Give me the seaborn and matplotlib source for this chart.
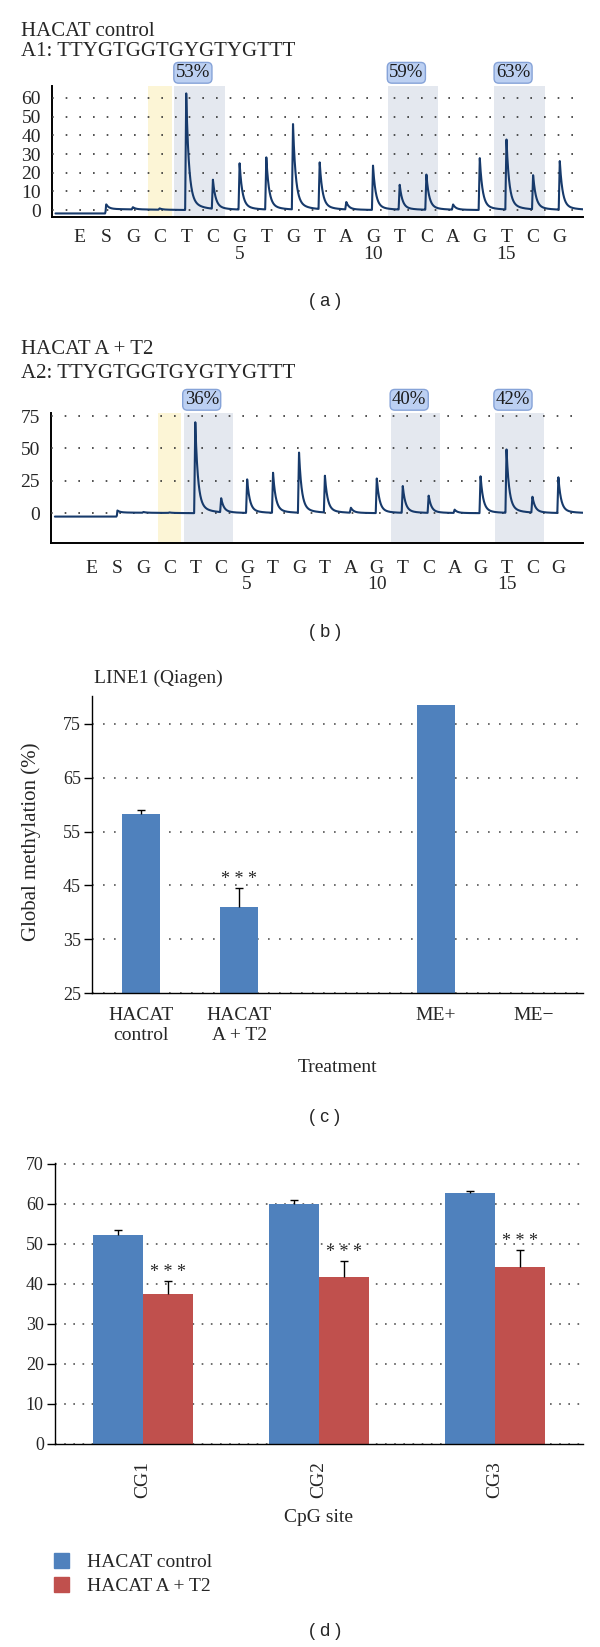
import numpy as np
import pandas as pd
import matplotlib
matplotlib.use("Agg")
import matplotlib.pyplot as plt
from matplotlib.patches import Patch
import seaborn as sns

sns.set_theme(style="white")
plt.rcParams["font.family"] = ["Liberation Serif", "DejaVu Serif"]

# ---- pyrograms (a, b) ----
disp_letters = ["E", "S", "G", "C", "T", "C", "G", "T", "G", "T", "A",
                "G", "T", "C", "A", "G", "T", "C", "G"]
disp_pos = list(range(-1, 18))          # E=-1, S=0, then dispensations 1..17
disp_numbered = {5: "5", 10: "10", 15: "15"}

# peak heights for S, 1..17
peaks_ctrl = [2.6, 1.2, 0.7, 62.4, 15.6, 25.0, 28.3, 46.6, 25.6, 4.0,
              23.7, 13.3, 19.0, 2.8, 28.3, 38.4, 18.5, 26.0]
peaks_at2 = [1.6, 0.6, 0.4, 72.0, 10.8, 26.5, 31.0, 47.4, 28.4, 3.9,
             26.8, 21.0, 13.4, 2.6, 28.9, 49.5, 12.4, 27.8]
start_level_ctrl = -1.8
start_level_at2 = -2.6
cpg_first = [3, 11, 15]
pct_ctrl = ["53%", "59%", "63%"]
pct_at2 = ["36%", "40%", "42%"]
ref_disp = 2

# ---- LINE1 (c) ----
c_labels = ["HACAT\ncontrol", "HACAT\nA + T2", " ", "ME+", "ME\u2212"]
c_means = [58.3, 41.0, np.nan, 78.5, np.nan]
c_errs = [0.7, 3.5, 0.0, 0.0, 0.0]
c_stars = [False, True, False, False, False]

# ---- CpG sites (d) ----
d_sites = ["CG1", "CG2", "CG3"]
d_groups = ["HACAT control", "HACAT A + T2"]
d_ctrl = [52.3, 60.0, 62.7]
d_ctrl_err = [1.2, 1.0, 0.6]
d_at2 = [37.4, 41.6, 44.3]
d_at2_err = [3.2, 4.0, 4.1]

BLUE = "#4f81bd"
RED = "#c0504d"
NAVY = "#173a6b"

W, H = 600, 1647
fig = plt.figure(figsize=(W / 100, H / 100), dpi=100)


def box(left, top, right, bottom):
    return [left / W, 1 - bottom / H, (right - left) / W, (bottom - top) / H]


def ftext(x, y, s, **kw):
    fig.text(x / W, 1 - y / H, s, **kw)


def plain_spines(ax, lw):
    for s in ["top", "right"]:
        ax.spines[s].set_visible(False)
    for s in ["left", "bottom"]:
        ax.spines[s].set_color("black")
        ax.spines[s].set_linewidth(lw)


def up_error(ax, x, top, err, star):
    if err > 0:
        ax.vlines(x, top, top + err, color="black", lw=1, zorder=3)
        ax.plot([x], [top + err], marker="_", ms=6, mew=1, color="black", zorder=3)
    if star:
        ax.annotate("* * *", xy=(x, top + err), xytext=(0, 3), textcoords="offset points",
                    ha="center", va="baseline", fontsize=13)


def trace(heights, start_level, x0, x1):
    x = np.linspace(x0, x1, 5000)
    base = np.interp(x, [x0, -0.02, 0.0, 3.0, x1],
                     [start_level, start_level, 0.5, 0.05, 0.0])
    y = base.copy()
    for pos, h in zip(range(0, 18), heights):
        d = x - pos
        k = np.where(d >= 0, 0.9 * np.exp(-d / 0.1) + 0.1 * np.exp(-d / 0.45), 0.0)
        k = np.where((d < 0) & (d > -0.04), (d + 0.04) / 0.04, k)
        y += h * k
    return pd.DataFrame({"x": x, "y": y})


def pyrogram(ax, heights, start_level, pcts, xlim, ylim, yticks, line_x0):
    ax.axvspan(ref_disp - 0.45, ref_disp + 0.45, color="#fcf5d6", lw=0, zorder=1)
    for i in cpg_first:
        ax.axvspan(i - 0.45, i + 1.45, color="#e4e8ef", lw=0, zorder=1)
    df = trace(heights, start_level, line_x0, xlim[1])
    sns.lineplot(data=df, x="x", y="y", ax=ax, color=NAVY, lw=1.5,
                 estimator=None, sort=False, zorder=3)
    ax.set_xlim(*xlim)
    ax.set_ylim(*ylim)
    ax.set_yticks(yticks)
    ax.set_axisbelow(False)
    ax.yaxis.grid(True, linestyle=(0, (1, 7.2)), color="#333333", lw=1.2)
    ax.xaxis.grid(False)
    labels = []
    for p, l in zip(disp_pos, disp_letters):
        labels.append(l + ("\n" + disp_numbered[p] if p in disp_numbered else ""))
    ax.set_xticks(disp_pos, labels=labels)
    for t in ax.get_xticklabels():
        t.set_linespacing(0.95)
    ax.set_xlabel("")
    ax.set_ylabel("")
    plain_spines(ax, 1.4)
    ax.tick_params(axis="both", direction="in", length=4, width=1, color="black",
                   labelsize=14)
    ax.tick_params(axis="x", pad=9)
    ax.tick_params(axis="y", pad=8)
    for i, p in zip(cpg_first, pcts):
        ax.annotate(p, xy=(i + 0.25, 1), xycoords=ax.get_xaxis_transform(),
                    xytext=(0, 9.5), textcoords="offset points", ha="center",
                    va="center", fontsize=13.5, color="#1a1a1a",
                    bbox=dict(boxstyle="round,pad=0.1,rounding_size=0.25",
                              fc="#bcd0f2", ec="#86a3d8", lw=1))


# (a)
ax_a = fig.add_axes(box(52, 86, 583, 217))
pyrogram(ax_a, peaks_ctrl, start_level_ctrl, pct_ctrl, (-2.03, 17.87),
         (-3.7, 66.4), [0, 10, 20, 30, 40, 50, 60], -1.9)
ftext(21, 32, "HACAT control", fontsize=15, va="center")
ftext(21, 51, "A1: TTYGTGGTGYGTYGTTT", fontsize=15, va="center")
ftext(325, 302, "( a )", fontsize=13, family="Liberation Sans", ha="center", va="center")

# (b)
ax_b = fig.add_axes(box(51, 413, 583, 543))
pyrogram(ax_b, peaks_at2, start_level_at2, pct_at2, (-2.56, 17.95),
         (-23, 77.4), [0, 25, 50, 75], -2.41)
ax_b.tick_params(axis="x", pad=12)
ftext(21, 349, "HACAT A + T2", fontsize=15, va="center")
ftext(21, 373, "A2: TTYGTGGTGYGTYGTTT", fontsize=15, va="center")
ftext(325, 632, "( b )", fontsize=13, family="Liberation Sans", ha="center", va="center")

# (c)
ax_c = fig.add_axes(box(92, 696, 583, 993))
df_c = pd.DataFrame({"Treatment": c_labels, "value": c_means})
sns.barplot(data=df_c, x="Treatment", y="value", order=c_labels, ax=ax_c,
            color=BLUE, saturation=1, width=0.39, errorbar=None, linewidth=0, zorder=2)
ax_c.set_ylim(25, 80.2)
ax_c.set_yticks([25, 35, 45, 55, 65, 75])
ax_c.set_axisbelow(True)
ax_c.yaxis.grid(True, linestyle=(0, (1, 5.6)), color="#555555", lw=1.2)
for k, (mval, e, st) in enumerate(zip(c_means, c_errs, c_stars)):
    if not np.isnan(mval):
        up_error(ax_c, k, mval, e, st)
n = len(c_labels)
ax_c.set_xticks(np.arange(n + 1) - 0.5, labels=[])
ax_c.set_xticks(np.arange(n), labels=c_labels, minor=True)
ax_c.set_xlim(-0.5, n - 0.5)
for t in ax_c.get_xticklabels(minor=True):
    t.set_linespacing(1.25)
ax_c.tick_params(axis="x", which="major", direction="out", length=6, width=1, color="black")
ax_c.tick_params(axis="x", which="minor", length=0, pad=10, labelsize=14)
ax_c.tick_params(axis="y", direction="out", length=6, width=1, color="black",
                 labelsize=13, pad=2, left=True)
ax_c.set_xlabel("")
ax_c.set_ylabel("")
plain_spines(ax_c, 1)
ftext(94, 678, "LINE1 (Qiagen)", fontsize=14, va="center")
ftext(31, 842, "Global methylation (%)", fontsize=15, rotation=90, ha="center", va="center")
ftext(338, 1068, "Treatment", fontsize=14, ha="center", va="center")
ftext(325, 1117, "( c )", fontsize=13, family="Liberation Sans", ha="center", va="center")

# (d)
ax_d = fig.add_axes(box(55, 1163, 583, 1444))
df_d = pd.DataFrame({
    "site": d_sites * 2,
    "group": [d_groups[0]] * 3 + [d_groups[1]] * 3,
    "value": d_ctrl + d_at2,
})
sns.barplot(data=df_d, x="site", y="value", hue="group", order=d_sites,
            hue_order=d_groups, palette=[BLUE, RED], saturation=1, width=0.57,
            errorbar=None, legend=False, linewidth=0, ax=ax_d, zorder=2)
ax_d.set_ylim(0, 70.2)
ax_d.set_yticks(range(0, 71, 10))
ax_d.set_axisbelow(True)
ax_d.yaxis.grid(True, linestyle=(0, (1, 4.5)), color="#555555", lw=1.2)
for cont, errs, star in zip(ax_d.containers, [d_ctrl_err, d_at2_err], [False, True]):
    for bar, e in zip(cont, errs):
        up_error(ax_d, bar.get_x() + bar.get_width() / 2, bar.get_height(), e, star)
m = len(d_sites)
ax_d.set_xticks(np.arange(m + 1) - 0.5, labels=[])
ax_d.set_xticks(np.arange(m), labels=d_sites, minor=True)
ax_d.set_xlim(-0.5, m - 0.5)
ax_d.tick_params(axis="x", which="major", direction="out", length=6, width=1, color="black")
ax_d.tick_params(axis="x", which="minor", length=0, pad=12, labelsize=14,
                 labelrotation=90)
ax_d.tick_params(axis="y", direction="out", length=6, width=1, color="black",
                 labelsize=13, pad=2, left=True)
ax_d.set_xlabel("")
ax_d.set_ylabel("")
plain_spines(ax_d, 1)
ftext(319, 1518, "CpG site", fontsize=14, ha="center", va="center")
handles = [Patch(color=BLUE, label=d_groups[0]), Patch(color=RED, label=d_groups[1])]
fig.legend(handles=handles, loc="upper left", bbox_to_anchor=(50 / W, 1 - 1549 / H),
           frameon=False, fontsize=14, handlelength=0.8, handleheight=0.8,
           handletextpad=0.9, labelspacing=0.3, borderaxespad=0, borderpad=0.2)
ftext(325, 1632, "( d )", fontsize=13, family="Liberation Sans", ha="center", va="center")

fig.savefig("out.png", dpi=100, facecolor="white")
